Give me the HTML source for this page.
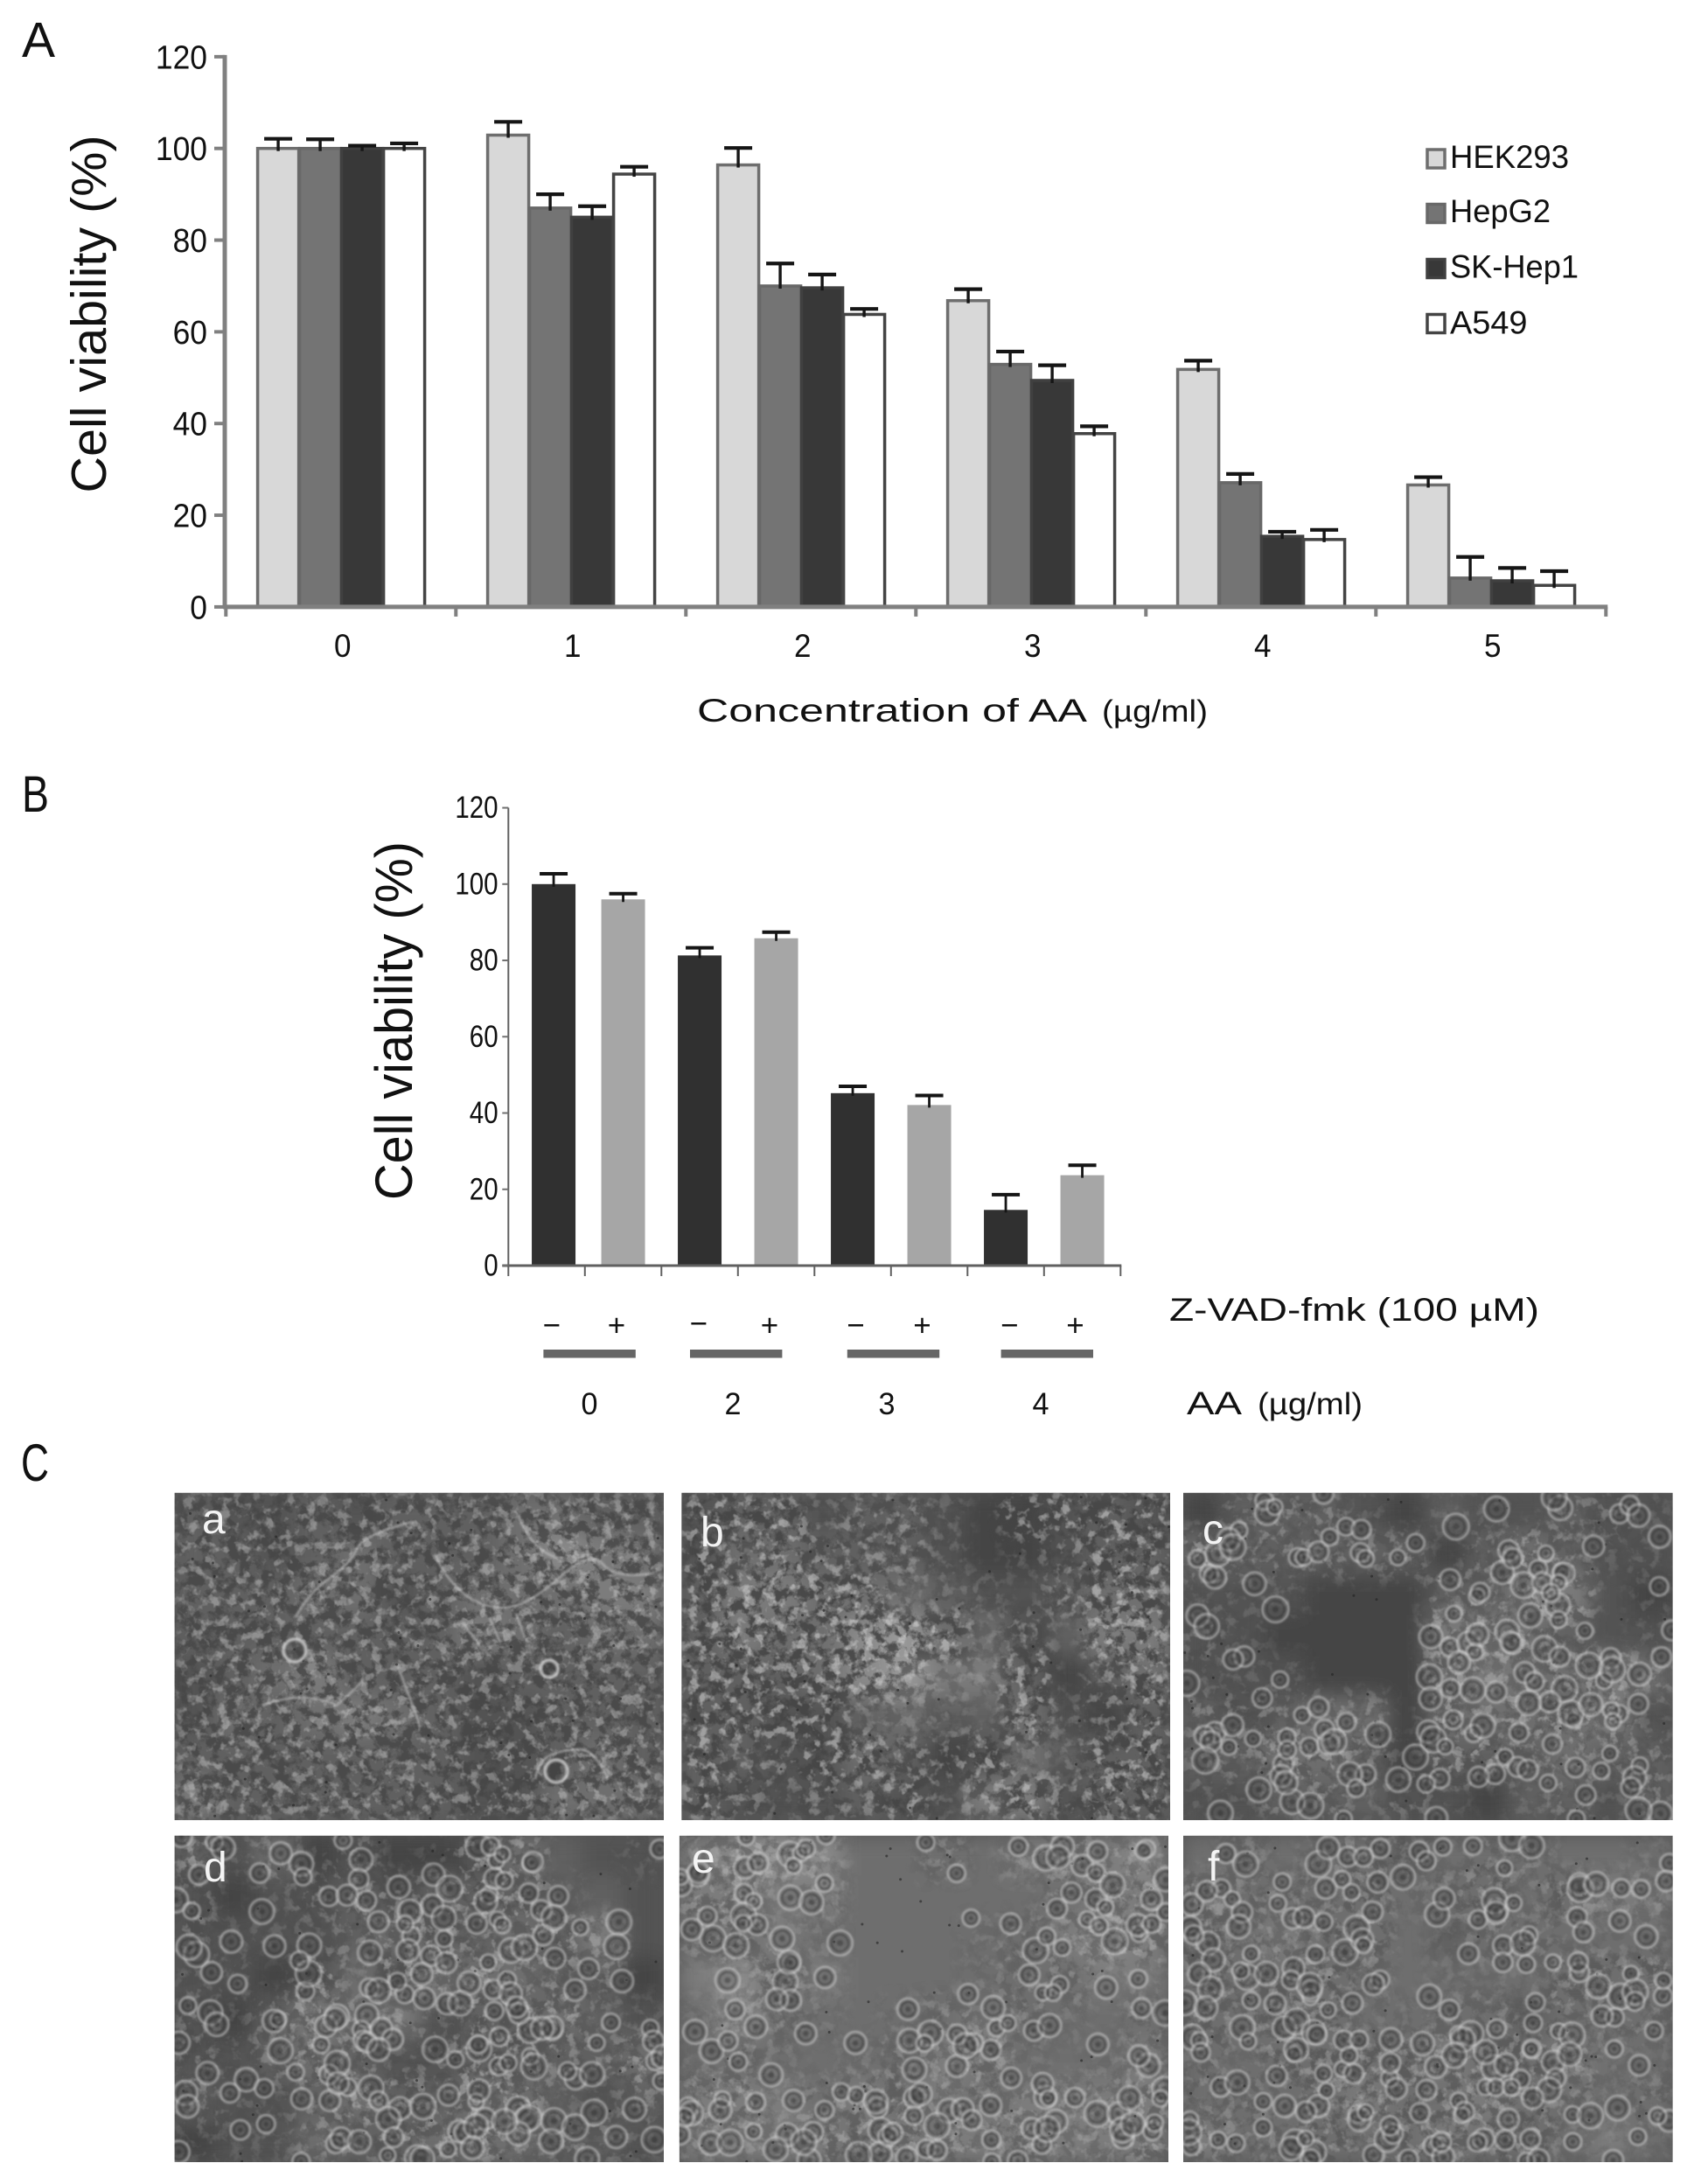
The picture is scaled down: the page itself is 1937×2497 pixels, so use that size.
<!DOCTYPE html>
<html lang="en">
<head>
<meta charset="utf-8">
<title>Cell viability figure</title>
<style>
html,body{margin:0;padding:0;background:#fff}
svg{display:block}
text{font-family:"Liberation Sans",sans-serif;fill:#111}
</style>
</head>
<body>
<svg xmlns="http://www.w3.org/2000/svg" width="1937" height="2497" viewBox="0 0 1937 2497">
  <defs>
    <filter id="blur" x="-10%" y="-10%" width="120%" height="120%"><feGaussianBlur stdDeviation="12"/></filter>
    <filter id="maskBlur" x="-10%" y="-10%" width="120%" height="120%"><feGaussianBlur stdDeviation="9"/></filter>
    <filter id="soft" x="-30%" y="-30%" width="160%" height="160%"><feGaussianBlur stdDeviation="1.1"/></filter>
    <filter id="noiseDark" x="0" y="0" width="100%" height="100%">
      <feTurbulence type="fractalNoise" baseFrequency="0.07" numOctaves="4" seed="7"/>
      <feColorMatrix type="matrix" values="0 0 0 0 0.06  0 0 0 0 0.06  0 0 0 0 0.06  5.5 0 0 0 -2.35"/>
    </filter>
    <filter id="noiseLight" x="0" y="0" width="100%" height="100%">
      <feTurbulence type="fractalNoise" baseFrequency="0.08" numOctaves="3" seed="23"/>
      <feColorMatrix type="matrix" values="0 0 0 0 1  0 0 0 0 1  0 0 0 0 1  0 5 0 0 -2.6"/>
    </filter>
  </defs>

  <g>
    <text x="25" y="65" font-size="57">A</text>
    <g id="chartA"></g>
    <text transform="translate(121 359) rotate(-90)" text-anchor="middle" font-size="57" textLength="409" lengthAdjust="spacingAndGlyphs">Cell viability (%)</text>
    <text x="797" y="825" font-size="37" textLength="446" lengthAdjust="spacingAndGlyphs">Concentration of AA</text>
    <text x="1260" y="825" font-size="35" textLength="121" lengthAdjust="spacingAndGlyphs">(µg/ml)</text>
  </g>

  <g>
    <text x="25" y="928" font-size="58" textLength="31" lengthAdjust="spacingAndGlyphs">B</text>
    <g id="chartB"></g>
    <text transform="translate(471 1167) rotate(-90)" text-anchor="middle" font-size="60" textLength="410" lengthAdjust="spacingAndGlyphs">Cell viability (%)</text>
    <text x="1337" y="1510" font-size="37" textLength="423" lengthAdjust="spacingAndGlyphs">Z-VAD-fmk (100 µM)</text>
    <text x="1357" y="1617" font-size="37" textLength="63" lengthAdjust="spacingAndGlyphs">AA</text>
    <text x="1438" y="1617" font-size="35" textLength="120" lengthAdjust="spacingAndGlyphs">(µg/ml)</text>
  </g>

  <g>
    <text x="24" y="1693" font-size="60" textLength="32" lengthAdjust="spacingAndGlyphs">C</text>
    <g id="photos"></g>
  </g>

<script>
// ---- Chart A data ----
var catsA = ['0', '1', '2', '3', '4', '5'];
var ticksA = [0, 20, 40, 60, 80, 100, 120];
var seriesNamesA = ['HEK293', 'HepG2', 'SK-Hep1', 'A549'];
var hek293 = [100, 102.9, 96.4, 66.8, 51.8, 26.6];
var hepg2 = [100, 87, 70, 52.9, 27.1, 6.3];
var skhep1 = [100, 85, 69.6, 49.4, 15.4, 5.7];
var a549 = [100, 94.4, 63.8, 37.8, 14.7, 4.7];
var hek293Top = [102.1, 105.8, 100.1, 69.3, 53.7, 28.3];
var hepg2Top = [102, 90, 74.9, 55.7, 29, 10.9];
var skhep1Top = [100.6, 87.4, 72.5, 52.7, 16.4, 8.5];
var a549Top = [101.1, 96, 65, 39.4, 16.8, 7.8];

// ---- Chart B data ----
var ticksB = [0, 20, 40, 60, 80, 100, 120];
var doseLabelsB = ['0', '2', '3', '4'];
var signsB = ['\u2212', '+', '\u2212', '+', '\u2212', '+', '\u2212', '+'];
var valuesB = [100, 96, 81.3, 85.8, 45.2, 42.1, 14.6, 23.7];
var valuesBTop = [102.7, 97.5, 83.3, 87.4, 47, 44.6, 18.6, 26.3];

// ---- Micrograph brightness maps (12 x 8, digit = brightness) ----
var photoA = ['433434445544','443454445765','444553455566','444444465455','345644434444','354565433444','444444433454','644444433555'];
var photoB = ['344344322343','355444322344','466555433455','465578553466','444578664245','443345445324','443354235444','433343366344'];
var photoC = ['244432433433','544444245433','333222446632','332222665433','333222565565','434552555563','445542444544','334443324434'];
var photoD = ['435232235433','323343444443','333345445463','332353655442','324656344543','334543344445','433454455434','233544555443'];
var photoE = ['678755556667','666655555566','556555555676','675655555566','575555565555','555555665556','666565656666','666656666666'];
var photoF = ['555554555555','655555555566','556555455555','555555555555','555555554555','555555655655','555565565555','655555655565'];
// ---- Micrograph cell density maps (12 x 8, digit = rounded cells per block) ----
var cellsA = ['333333333333','333333333333','333333333333','333333333333','333333333333','333333333333','333333333333','333333333333'];
var cellsB = ['333122103333','323222101233','333331110233','333333312033','333332113023','333311103123','322332231133','321223123233'];
var cellsC = ['022210110221','322222023211','111000223301','210000333201','111000322332','222220323331','223321332222','112212101212'];
var cellsD = ['312120133001','201232233100','211123323320','110313332220','212322133311','212321233223','211233233112','111223332221'];
var cellsE = ['233200202322','331200000233','231100012233','013100012211','122101222102','121012231012','331233222223','222333323223'];
var cellsF = ['020232122001','322231231322','322330122111','323320111333','323311222222','213333333311','221333333212','322323333111'];
var photoLetters = ['a', 'b', 'c', 'd', 'e', 'f'];

var NS = 'http://www.w3.org/2000/svg';
function mk(tag, attrs, parent) {
  var e = document.createElementNS(NS, tag);
  for (var k in attrs) { e.setAttribute(k, attrs[k]); }
  parent.appendChild(e);
  return e;
}
function hash(n) { var s = Math.sin(n * 127.1 + 11.7) * 43758.5453; return s - Math.floor(s); }

// ---- Chart A ----
(function () {
  var root = document.getElementById('chartA');
  var x0 = 258.3, axisX = 257, catW = 263, y0 = 693.9, unit = 5.242, barW = 48, groupOff = 34.8;
  function yA(v) { return y0 - v * unit; }
  function xA(c, s) { return x0 + c * catW + groupOff + s * barW; }
  var seriesVals = [hek293, hepg2, skhep1, a549];
  var seriesTops = [hek293Top, hepg2Top, skhep1Top, a549Top];
  var fills = ['#d8d8d8', '#747474', '#383838', '#ffffff'];
  var strokes = ['#6e6e6e', '#686868', '#404040', '#444444'];

  seriesVals.forEach(function (vals, s) {
    vals.forEach(function (v, c) {
      var bar = mk('rect', { x: xA(c, s) + 1.5, y: yA(v), width: barW - 1, height: y0 - yA(v), fill: fills[s], stroke: strokes[s], 'stroke-width': 3.5 }, root);
      
      
    });
  });
  seriesTops.forEach(function (tops, s) {
    tops.forEach(function (t, c) {
      var cx = xA(c, s) + barW / 2 + 1;
      var stem = mk('line', { x1: cx, x2: cx, y1: yA(t), y2: yA(seriesVals[s][c]) + 3, stroke: '#151515', 'stroke-width': 3.4 }, root);
      
      
      var cap = mk('line', { x1: cx - 16, x2: cx + 16, y1: yA(t), y2: yA(t), stroke: '#151515', 'stroke-width': 4.2 }, root);
      
      
    });
  });
  var yAxis = mk('line', { x1: axisX, x2: axisX, y1: yA(120) - 2, y2: y0 + 2, stroke: '#808080', 'stroke-width': 5 }, root);
  
  
  var xAxis = mk('line', { x1: axisX - 2, x2: x0 + catW * catsA.length + 2, y1: y0, y2: y0, stroke: '#808080', 'stroke-width': 5 }, root);
  
  
  ticksA.forEach(function (t) {
    var tk = mk('line', { x1: axisX - 12, x2: axisX, y1: yA(t), y2: yA(t), stroke: '#808080', 'stroke-width': 4 }, root);
    
    
    var s = String(t);
    var lb = mk('text', { x: 237, y: yA(t) + 13.5, 'text-anchor': 'end', 'font-size': 38, textLength: s.length * 19.7, lengthAdjust: 'spacingAndGlyphs' }, root);
    lb.textContent = s;
    
    
  });
  for (var i = 0; i <= catsA.length; i++) {
    var xt = mk('line', { x1: x0 + i * catW, x2: x0 + i * catW, y1: y0, y2: y0 + 11, stroke: '#808080', 'stroke-width': 4 }, root);
    
    
  }
  catsA.forEach(function (c, i) {
    var lb = mk('text', { x: x0 + (i + 0.5) * catW + 2, y: 751, 'text-anchor': 'middle', 'font-size': 37, textLength: 19.5, lengthAdjust: 'spacingAndGlyphs' }, root);
    lb.textContent = c;
    
    
  });
  // legend
  var swatchY = [169.5, 232, 295, 358];
  var baseY = [192, 254, 317.5, 381.5];
  var textW = [136, 115, 147, 88.5];
  seriesNamesA.forEach(function (n, s) {
    var sw = mk('rect', { x: 1632, y: swatchY[s] + 1.5, width: 20, height: 21, fill: fills[s], stroke: strokes[s], 'stroke-width': 3.5 }, root);
    
    
    var tx = mk('text', { x: 1658, y: baseY[s], 'font-size': 37, textLength: textW[s], lengthAdjust: 'spacingAndGlyphs' }, root);
    tx.textContent = n;
    
    
  });
})();

// ---- Chart B ----
(function () {
  var root = document.getElementById('chartB');
  var x0 = 581.3, catW = 87.5, y0 = 1447, unit = 4.362, barW = 50;
  function yB(v) { return y0 - v * unit; }
  function xB(i) { return x0 + (i + 0.5) * catW + (i === 0 ? 8 : 0); }
  var fillsB = ['#303030', '#a6a6a6'];
  valuesB.forEach(function (v, i) {
    var bar = mk('rect', { x: xB(i) - barW / 2, y: yB(v), width: barW, height: y0 - yB(v), fill: fillsB[i % 2] }, root);
    
    
  });
  valuesBTop.forEach(function (t, i) {
    var cx = xB(i);
    var stem = mk('line', { x1: cx, x2: cx, y1: yB(t), y2: yB(valuesB[i]) + 3, stroke: '#151515', 'stroke-width': 2.8 }, root);
    
    
    var cap = mk('line', { x1: cx - 16, x2: cx + 16, y1: yB(t), y2: yB(t), stroke: '#151515', 'stroke-width': 4 }, root);
    
    
  });
  var yAxis = mk('line', { x1: x0, x2: x0, y1: yB(120), y2: y0, stroke: '#606060', 'stroke-width': 2 }, root);
  
  
  var xAxis = mk('line', { x1: x0 - 7, x2: x0 + catW * valuesB.length + 1, y1: y0, y2: y0, stroke: '#606060', 'stroke-width': 3 }, root);
  
  
  ticksB.forEach(function (t) {
    var tk = mk('line', { x1: x0 - 7, x2: x0, y1: yB(t), y2: yB(t), stroke: '#707070', 'stroke-width': 2 }, root);
    
    
    var s = String(t);
    var lb = mk('text', { x: 569.6, y: yB(t) + 11.5, 'text-anchor': 'end', 'font-size': 35, textLength: s.length * 16.4, lengthAdjust: 'spacingAndGlyphs' }, root);
    lb.textContent = s;
    
    
  });
  for (var i = 0; i <= valuesB.length; i++) {
    var xt = mk('line', { x1: x0 + i * catW, x2: x0 + i * catW, y1: y0, y2: y0 + 12, stroke: '#606060', 'stroke-width': 2 }, root);
    
    
  }
  var signX = [631, 705, 799, 880, 978.6, 1054.5, 1154.5, 1229.5];
  signsB.forEach(function (sg, i) {
    var tx = mk('text', { x: signX[i], y: i === 2 ? 1525 : 1527, 'text-anchor': 'middle', 'font-size': 35 }, root);
    tx.textContent = sg;
    
    
  });
  var groupX = [621.4, 789, 968.8, 1144.6];
  var doseX = [674, 838, 1014, 1190];
  doseLabelsB.forEach(function (d, i) {
    var br = mk('rect', { x: groupX[i], y: 1543, width: 105.4, height: 9.5, fill: '#666666' }, root);
    
    
    var tx = mk('text', { x: doseX[i], y: 1617, 'text-anchor': 'middle', 'font-size': 35, textLength: 19, lengthAdjust: 'spacingAndGlyphs' }, root);
    tx.textContent = d;
    
    
  });
})();

// ---- Micrographs ----
(function () {
  var root = document.getElementById('photos');
  var maps = [photoA, photoB, photoC, photoD, photoE, photoF];
  var densities = [cellsA, cellsB, cellsC, cellsD, cellsE, cellsF];
  var boxes = [[199.6,1706.7,559.4,374.3],[779.3,1706.7,558.7,374.3],[1353,1706.7,559.7,374.3],[199.6,2098.7,559.4,373.3],[776.8,2098.7,559.2,373.3],[1353,2098.7,559.7,373.3]];
  var letterPos = [[231,1753],[801,1768],[1375,1765],[233,2151],[791,2141],[1381,2150]];
  var darkOp = [0.8, 0.9, 0.4, 0.4, 0.4, 0.45];
  var lightOp = [0.3, 0.4, 0.3, 0.3, 0.25, 0.22];
  var ringOn = [false, false, true, true, true, true];
  var crackPaths = [
    'M338 1849 Q352 1822 376 1805 T408 1771 T472 1740',
    'M300 1950 Q330 1938 357 1942 T383 1950 T415 1922',
    'M497 1777 Q510 1805 529 1821 T574 1838 T638 1805 T689 1788 T746 1799',
    'M593 1732 Q598 1750 612 1765 T644 1782',
    'M612 2034 Q616 2012 631 2006 T663 2000 T695 2034',
    'M529 1855 L548 1880 M560 1850 L572 1878 M590 1845 L600 1872',
    'M455 1905 Q462 1925 470 1945 T480 1975'
  ];
  var brightRings = [[337, 1887, 13], [628, 1908, 10], [636, 2025, 13]];

  maps.forEach(function (m, p) {
    var b = boxes[p];
    var clip = mk('clipPath', { id: 'clip' + p }, root);
    mk('rect', { x: b[0], y: b[1], width: b[2], height: b[3] }, clip);
    var g = mk('g', { 'clip-path': 'url(#clip' + p + ')' }, root);
    
    
    var base = mk('rect', { x: b[0], y: b[1], width: b[2], height: b[3], fill: '#555555' }, g);
    
    
    var low = mk('g', { filter: 'url(#blur)' }, g);
    var cw = b[2] / 12, ch = b[3] / 8;
    m.forEach(function (row, r) {
      for (var c = 0; c < 12; c++) {
        var d = parseInt(row.charAt(c), 10);
        var gray = 40 + d * 14;
        mk('rect', { x: b[0] + c * cw - 1, y: b[1] + r * ch - 1, width: cw + 2, height: ch + 2, fill: 'rgb(' + gray + ',' + gray + ',' + gray + ')' }, low);
      }
    });
    // texture only where cells are
    var mask = mk('mask', { id: 'mask' + p, maskUnits: 'userSpaceOnUse', x: b[0], y: b[1], width: b[2], height: b[3] }, root);
    var mg = mk('g', { filter: 'url(#maskBlur)' }, mask);
    densities[p].forEach(function (row, r) {
      for (var c = 0; c < 12; c++) {
        var n = parseInt(row.charAt(c), 10);
        var v = Math.round(255 * n / 3);
        mk('rect', { x: b[0] + c * cw - 1, y: b[1] + r * ch - 1, width: cw + 2, height: ch + 2, fill: 'rgb(' + v + ',' + v + ',' + v + ')' }, mg);
      }
    });
    var tex = mk('g', { mask: 'url(#mask' + p + ')' }, g);
    
    
    mk('rect', { x: b[0], y: b[1], width: b[2], height: b[3], filter: 'url(#noiseDark)', opacity: darkOp[p] }, tex);
    mk('rect', { x: b[0], y: b[1], width: b[2], height: b[3], filter: 'url(#noiseLight)', opacity: lightOp[p] }, tex);
    // debris specks
    var k, sx, sy;
    for (k = 0; k < 60; k++) {
      sx = b[0] + hash(p * 100 + k * 2 + 1) * b[2];
      sy = b[1] + hash(p * 100 + k * 2 + 2) * b[3];
      mk('circle', { cx: sx, cy: sy, r: 1.5, fill: '#222222', opacity: 0.6 }, g);
    }
    // rounded cells
    if (ringOn[p]) {
      var seed = 1000 * (p + 1);
      var ringG = mk('g', { filter: 'url(#soft)' }, g);
      densities[p].forEach(function (row, r) {
        for (var c = 0; c < 12; c++) {
          var n = parseInt(row.charAt(c), 10);
          for (var q = 0; q < n; q++) {
            seed += 3;
            var cx = b[0] + (c + hash(seed)) * cw;
            var cy = b[1] + (r + hash(seed + 1)) * ch;
            var rad = 9 + hash(seed + 2) * 6;
            var ring = mk('circle', { cx: cx, cy: cy, r: rad, fill: 'rgba(95,95,95,0.3)', stroke: 'rgba(225,225,225,0.5)', 'stroke-width': 2.4 }, ringG);
            
            
            mk('circle', { cx: cx, cy: cy, r: rad * 0.66, fill: 'none', stroke: 'rgba(25,25,25,0.4)', 'stroke-width': 1.8 }, ringG);
            mk('circle', { cx: cx, cy: cy, r: rad * 0.25, fill: 'rgba(30,30,30,0.35)' }, ringG);
          }
        }
      });
    }
    if (p === 0) {
      crackPaths.forEach(function (d) {
        var crack = mk('path', { d: d, fill: 'none', stroke: 'rgba(215,215,215,0.45)', 'stroke-width': 3, filter: 'url(#soft)' }, g);
        
        
      });
      brightRings.forEach(function (br) {
        var ring = mk('circle', { cx: br[0], cy: br[1], r: br[2], fill: 'rgba(60,60,60,0.5)', stroke: 'rgba(225,225,225,0.7)', 'stroke-width': 3.5, filter: 'url(#soft)' }, g);
        
        
      });
    }
    var lb = mk('text', { x: letterPos[p][0], y: letterPos[p][1], 'font-size': 48 }, root);
    lb.textContent = photoLetters[p];
    lb.style.fill = '#f4f4f4';
    
    
  });
})();
</script>
</svg>
</body>
</html>
